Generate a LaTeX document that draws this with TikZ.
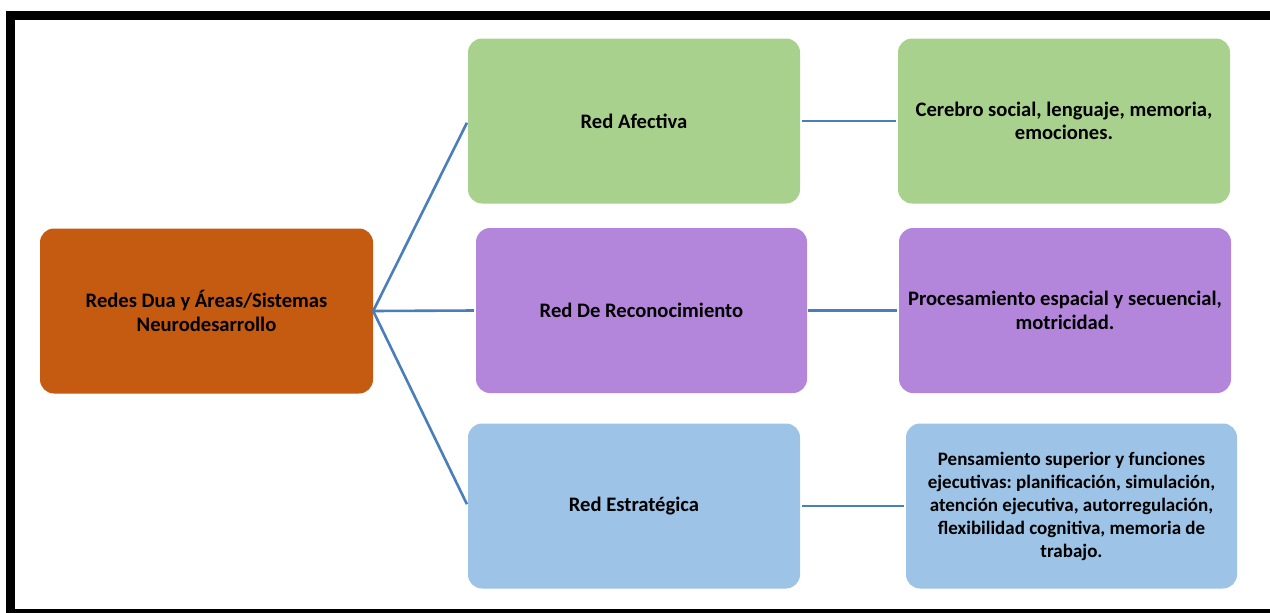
\documentclass[tikz,border=0pt]{standalone}
\usepackage{fontspec}
\setmainfont{Carlito}
\frenchspacing
\definecolor{rootorange}{HTML}{C55A11}
\definecolor{affgreen}{HTML}{A9D18E}
\definecolor{recpurple}{HTML}{B486DB}
\definecolor{estblue}{HTML}{9DC3E6}
\definecolor{linkblue}{HTML}{4A7EBB}
\begin{document}
\begin{tikzpicture}[x=1pt,y=-1pt,
  box/.style={draw=none, rounded corners=14pt, minimum height=165pt,
    align=center, inner sep=0pt,
    font=\fontsize{20.6}{23.5}\selectfont\bfseries},
  link/.style={draw=linkblue, line width=2.6pt}]
\useasboundingbox (0,0) rectangle (1270,613);
\begin{scope}
  \clip (0,0) rectangle (1270,613);
  \draw[line width=9pt] (10.5,15) rectangle (1295,613.5);
\end{scope}

% root of the map
\node[box, fill=rootorange, minimum width=333pt] (root) at (206.5,311)
  {Redes Dua y Áreas/Sistemas\\Neurodesarrollo};

% the three networks
\node[box, fill=affgreen, minimum width=332pt] (af) at (634,121) {Red Afectiva};
\node[box, fill=recpurple, minimum width=331pt] (rec) at (641.5,310.5) {Red De Reconocimiento};
\node[box, fill=estblue, minimum width=332pt] (est) at (634,506) {Red Estratégica};

% descriptions
\node[box, fill=affgreen, minimum width=332pt] (afd) at (1064,121)
  {Cerebro social, lenguaje, memoria,\\emociones.};
\node[box, fill=recpurple, minimum width=332pt] (recd) at (1065,310.5)
  {Procesamiento espacial y secuencial,\\motricidad.};
\node[box, fill=estblue, minimum width=331pt, font=\fontsize{19}{23}\selectfont\bfseries]
  (estd) at (1071.5,506)
  {Pensamiento superior y funciones\\ejecutivas: planificación, simulación,\\atención ejecutiva, autorregulación,\\flexibilidad cognitiva, memoria de\\trabajo.};

% connectors
\draw[link, shorten >=2pt] (root.east) -- (af.west);
\draw[link, shorten >=2pt] (root.east) -- (rec.west);
\draw[link, shorten >=2pt] (root.east) -- (est.west);
\draw[link, shorten <=2pt, shorten >=2pt] (af.east) -- (afd.west);
\draw[link, shorten <=1pt, shorten >=2pt] (rec.east) -- (recd.west);
\draw[link, shorten <=2pt, shorten >=2pt] (est.east) -- (estd.west);
\end{tikzpicture}
\end{document}
